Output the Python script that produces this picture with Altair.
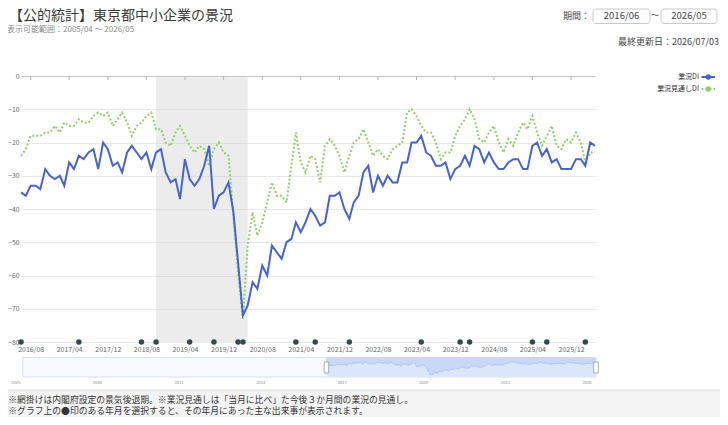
import altair as alt
import pandas as pd

FONT = "Noto Sans CJK JP"
BLUE = "#4764c9"
GREEN = "#8fd06a"
DOT = "#2f4b4f"

title_text = "【公的統計】東京都中小企業の景況"
range_note = "表示可能範囲：2005/04 ～ 2026/05"
updated_text = "最終更新日：2026/07/03"
period_label = "期間："
period_start = "2016/06"
period_end = "2026/05"
legend_labels = ["業況DI", "業況見通しDI"]
notes = [
    "※網掛けは内閣府設定の景気後退期。※業況見通しは「当月に比べ」た今後３か月間の業況の見通し。",
    "※グラフ上の●印のある年月を選択すると、その年月にあった主な出来事が表示されます。",
]

# 業況DI (2016/06 - 2026/05, monthly)
di = [-35, -36, -33, -33, -34, -28, -30, -31, -30, -33, -26, -28, -24, -25, -23, -22,
      -28, -20, -22, -27, -26, -29, -23, -21, -23, -25, -23, -28, -23, -22, -29, -32,
      -31, -37, -25, -31, -33, -31, -27, -21, -40, -36, -35, -32, -41, -56, -72, -69,
      -62, -64, -57, -60, -51, -53, -55, -50, -49, -44, -47, -44, -40, -42, -45, -44,
      -36, -36, -35, -40, -43, -38, -36, -29, -27, -35, -30, -33, -30, -32, -32, -26,
      -26, -20, -20, -18, -23, -24, -27, -27, -26, -31, -28, -27, -24, -27, -21, -22,
      -26, -23, -26, -28, -28, -26, -25, -25, -28, -28, -21, -20, -24, -22, -26, -25,
      -28, -28, -28, -25, -25, -27, -20, -21]
# 業況見通しDI
outlook = [-24, -22, -18, -18, -18, -17, -17, -15, -17, -14, -15, -15, -13, -14, -14, -12,
           -11, -12, -11, -15, -13, -11, -14, -18, -15, -14, -12, -11, -16, -16, -20, -21,
           -17, -15, -18, -21, -23, -21, -22, -27, -22, -20, -23, -24, -42, -59, -73, -51,
           -41, -48, -44, -38, -32, -36, -36, -38, -27, -17, -26, -29, -24, -25, -32, -21,
           -19, -21, -24, -29, -24, -20, -19, -16, -20, -24, -22, -24, -25, -22, -21, -20,
           -11, -10, -12, -15, -17, -17, -20, -25, -23, -23, -18, -15, -13, -10, -13, -19,
           -20, -17, -15, -20, -23, -19, -21, -17, -14, -16, -12, -17, -21, -18, -15, -21,
           -22, -19, -20, -17, -20, -26, -23, -23]

event_months = ["2016/06", "2017/06", "2018/07", "2018/10", "2019/05", "2019/10",
                "2020/03", "2020/04", "2021/03", "2021/07", "2022/02", "2023/05",
                "2024/01", "2024/03", "2025/04", "2025/07", "2026/03"]
recession = ["2018/10", "2020/05"]
x_tick_labels = ["2016/08", "2017/04", "2017/12", "2018/08", "2019/04", "2019/12",
                 "2020/08", "2021/04", "2021/12", "2022/08", "2023/04", "2023/12",
                 "2024/08", "2025/04", "2025/12"]
nav_range = ["2005/04", "2026/05"]
nav_years = ["2005", "2008", "2011", "2014", "2017", "2020", "2023", "2026"]


def iso(ym):
    return f"{ym[:4]}-{ym[5:7]}-01T00:00:00"


def dt(ym):
    return alt.DateTime(year=int(ym[:4]), month=int(ym[5:7]), date=1)


def month_seq(start, n):
    y, m = int(start[:4]), int(start[5:7])
    out = []
    for _ in range(n):
        out.append(f"{y}/{m:02d}")
        m += 1
        if m > 12:
            m = 1
            y += 1
    return out


months = month_seq(period_start, len(di))
df = pd.DataFrame({"date": [iso(m) for m in months], "di": di, "outlook": outlook})
ev_df = pd.DataFrame({"date": [iso(m) for m in event_months]})
rec_df = pd.DataFrame({"s": [iso(recession[0])], "e": [iso(recession[1])]})
tick_df = pd.DataFrame({"d": [iso(t) for t in x_tick_labels]})
sel_df = pd.DataFrame({"s": [iso(period_start)], "e": [iso(period_end)]})
handle_df = pd.DataFrame({"d": [iso(period_start), iso(period_end)]})
nav_lab_df = pd.DataFrame({"d": [f"{y}-01-01T00:00:00" for y in nav_years], "label": nav_years})
one = pd.DataFrame({"_": [0]})

# ---------------- main plot ----------------
main_x_scale = alt.Scale(domain=[dt(period_start), dt(period_end)])
main_y_scale = alt.Scale(domain=[-80, 0], nice=False)
x_axis = alt.Axis(values=[dt(t) for t in x_tick_labels], format="%Y/%m", grid=False,
                  domain=False, ticks=False, labelPadding=3, labelFontSize=7,
                  labelColor="#666", labelFont=FONT, title=None)
y_axis = alt.Axis(values=list(range(-80, 1, 10)), grid=True,
                  gridColor={"condition": {"test": "datum.value === 0", "value": "#c2c2c2"},
                             "value": "#e8e8e8"},
                  domain=False, ticks=False, labelPadding=2, labelFontSize=6.8,
                  labelColor="#666", labelFont=FONT, title=None)

rec = alt.Chart(rec_df).mark_rect(color="#cfcfcf", opacity=0.4).encode(
    x=alt.X("s:T", scale=main_x_scale, axis=x_axis), x2="e:T")

top_ticks = alt.Chart(tick_df).mark_rule(color="#b5b5b5").encode(
    x=alt.X("d:T", scale=main_x_scale, axis=x_axis), y=alt.value(0), y2=alt.value(4))

line_di = alt.Chart(df).mark_line(color=BLUE, strokeWidth=2).encode(
    x=alt.X("date:T", scale=main_x_scale, axis=x_axis),
    y=alt.Y("di:Q", scale=main_y_scale, axis=y_axis))

line_out = alt.Chart(df).mark_line(color=GREEN, strokeWidth=2, strokeDash=[2, 2]).encode(
    x=alt.X("date:T", scale=main_x_scale, axis=x_axis),
    y=alt.Y("outlook:Q", scale=main_y_scale, axis=y_axis))

events = alt.Chart(ev_df).mark_circle(color=DOT, size=30, opacity=1).encode(
    x=alt.X("date:T", scale=main_x_scale, axis=x_axis),
    y=alt.YDatum(-80, scale=main_y_scale, axis=y_axis))

main = alt.layer(rec, top_ticks, line_out, line_di, events)

# ---------------- navigator ----------------
nav_x_scale = alt.Scale(domain=[dt(nav_range[0]), dt(nav_range[1])], range=[1.7, 575])
nav_y_scale = alt.Scale(domain=[-80, 0], nice=False, range=[301, 281])

nav_frame = alt.Chart(one).mark_rect(fill="#f9fafd", stroke="#d8deec", strokeWidth=1).encode(
    x=alt.value(1.7), x2=alt.value(575), y=alt.value(281.5), y2=alt.value(301))
nav_sel = alt.Chart(sel_df).mark_rect(fill="#dce6fa", opacity=1).encode(
    x=alt.X("s:T", scale=nav_x_scale, axis=None), x2="e:T",
    y=alt.value(281.5), y2=alt.value(301))
nav_area = alt.Chart(df).mark_area(color="#c9d8f6", opacity=1,
                                   line={"color": "#aabfec", "strokeWidth": 0.8}).encode(
    x=alt.X("date:T", scale=nav_x_scale, axis=None),
    y=alt.Y("di:Q", scale=nav_y_scale, axis=None), y2=alt.value(301))
nav_handles = alt.Chart(handle_df).mark_point(
    shape="M-0.42,-1 L0.42,-1 L0.42,1 L-0.42,1 Z", size=121, filled=False,
    fill="white", fillOpacity=1, stroke="#9a9a9a", strokeWidth=0.8, opacity=1).encode(
    x=alt.X("d:T", scale=nav_x_scale, axis=None), y=alt.value(291.5))
nav_labels = alt.Chart(nav_lab_df).mark_text(fontSize=4, color="#888", font=FONT).encode(
    x=alt.X("d:T", scale=nav_x_scale, axis=None), y=alt.value(307), text="label:N")

nav = alt.layer(nav_frame, nav_sel, nav_area, nav_handles, nav_labels)

# ---------------- decorations ----------------
def txt(s, x, y, size, color="#333", align="left", baseline="middle"):
    return alt.Chart(one).mark_text(fontSize=size, color=color, align=align, baseline=baseline,
                                    font=FONT).encode(
        x=alt.value(x), y=alt.value(y), text=alt.value(s))


def box(x1, x2, y1, y2):
    return alt.Chart(one).mark_rect(fill="white", stroke="#c9c9c9", strokeWidth=1,
                                    cornerRadius=3).encode(
        x=alt.value(x1), x2=alt.value(x2), y=alt.value(y1), y2=alt.value(y2))


deco = [
    txt(title_text, -12, -67.5, 14, color="#3a3a3a", baseline="top"),
    txt(range_note, -14, -46, 8, color="#888"),
    txt(period_label, 569, -60, 9, color="#444", align="right"),
    box(572, 629, -67, -52.5),
    txt(period_start, 600.5, -59.8, 9.5, color="#444", align="center"),
    txt("～", 634, -59.8, 8, color="#444", align="center"),
    box(640, 696, -67, -52.5),
    txt(period_end, 668, -59.8, 9.5, color="#444", align="center"),
    txt(updated_text, 698, -34.3, 9, color="#444", align="right"),
    # legend
    txt(legend_labels[0], 678, 1, 7, color="#333", align="right"),
    alt.Chart(one).mark_rule(color=BLUE, strokeWidth=2).encode(
        x=alt.value(680.5), x2=alt.value(694), y=alt.value(1)),
    alt.Chart(one).mark_circle(color=BLUE, size=28, opacity=1).encode(
        x=alt.value(687.3), y=alt.value(1)),
    txt(legend_labels[1], 678, 13, 7, color="#333", align="right"),
    alt.Chart(one).mark_rule(color=GREEN, strokeWidth=2, strokeDash=[2, 2]).encode(
        x=alt.value(680.5), x2=alt.value(694), y=alt.value(13)),
    alt.Chart(one).mark_circle(color=GREEN, size=28, opacity=1).encode(
        x=alt.value(687.3), y=alt.value(13)),
    # notes band
    alt.Chart(one).mark_rect(fill="#f3f3f3").encode(
        x=alt.value(-13), x2=alt.value(699), y=alt.value(314), y2=alt.value(341)),
    alt.Chart(one).mark_rule(color="#dcdcdc").encode(
        x=alt.value(-13), x2=alt.value(699), y=alt.value(314)),
    txt(notes[0], -12.7, 323.5, 8.8, color="#333"),
    txt(notes[1], -12.7, 335.3, 8.8, color="#333"),
]

chart = alt.layer(main, nav, *deco).resolve_scale(
    x="independent", y="independent"
).properties(
    width=574, height=266,
    autosize=alt.AutoSizeParams(type="none"),
    padding={"left": 13, "top": 68, "right": 125, "bottom": 75},
    background="white",
).configure(font=FONT).configure_view(stroke=None)

chart.save("out.html", embed_options={"renderer": "svg", "actions": False})
